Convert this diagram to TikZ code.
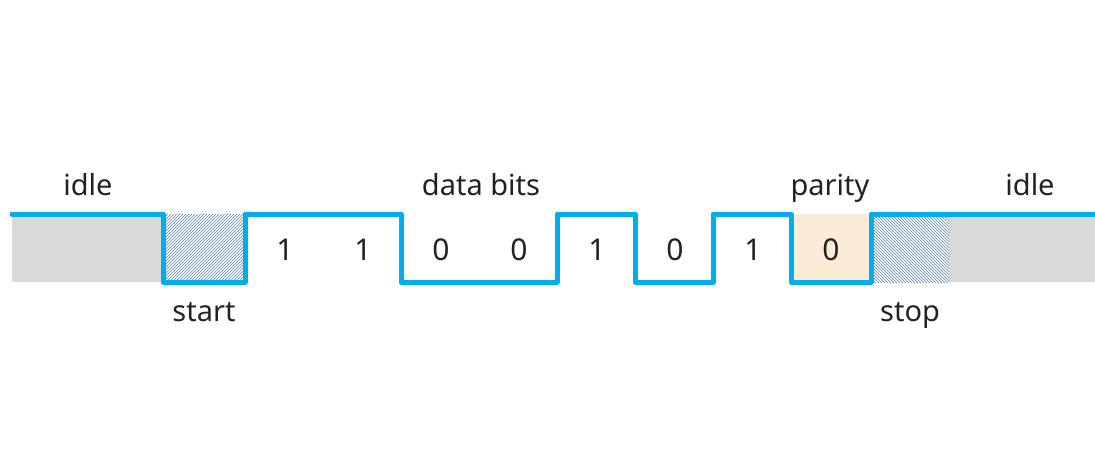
\documentclass[tikz,border=0pt]{standalone}
\usepackage{fontspec}
\setmainfont{Noto Sans}
\usetikzlibrary{patterns}
\definecolor{wire}{HTML}{00AEEF}
\definecolor{idlegray}{HTML}{D9D9D9}
\definecolor{paritybg}{HTML}{FCEBD6}
\definecolor{hatchblue}{HTML}{5B7FAE}
\definecolor{ink}{HTML}{222222}
\tikzset{
  lbl/.style={font=\fontsize{29}{34}\selectfont, text=ink, inner sep=0pt, anchor=base},
  bitlbl/.style={font=\fontsize{30}{34}\selectfont, text=ink, inner sep=0pt, anchor=base},
  signal/.style={draw=wire, line width=5pt, line join=round, line cap=round},
}
\begin{document}
\begin{tikzpicture}[x=1pt,y=-1pt]
  \useasboundingbox (0,0) rectangle (1095,448);
  % idle regions
  \fill[idlegray] (12,214) rectangle (163,282);
  \fill[idlegray] (949,214) rectangle (1095,282);
  % start and stop bits
  \fill[white] (163,214) rectangle (245,282);
  \fill[pattern=north east lines, pattern color=hatchblue] (163,214) rectangle (245,282);
  \fill[white] (871,214) rectangle (949,282);
  \fill[pattern=north west lines, pattern color=hatchblue] (871,214) rectangle (949,282);
  % parity bit
  \fill[paritybg] (791,214) rectangle (871,282);
  % serial line level
  \draw[signal] (12,214) -- (163,214) -- (163,282) -- (245,282) -- (245,214)
    -- (401,214) -- (401,282) -- (557,282) -- (557,214) -- (635,214)
    -- (635,282) -- (713,282) -- (713,214) -- (791,214) -- (791,282)
    -- (871,282) -- (871,214) -- (1095,214);
  % bit values
  \node[bitlbl] (b1) at (285,260) {1};
  \node[bitlbl] (b2) at (363,260) {1};
  \node[bitlbl] (b3) at (441,260) {0};
  \node[bitlbl] (b4) at (519,260) {0};
  \node[bitlbl] (b5) at (597,260) {1};
  \node[bitlbl] (b6) at (675,260) {0};
  \node[bitlbl] (b7) at (753,260) {1};
  \node[bitlbl] (bp) at (831,260) {0};
  % section labels
  \node[lbl] (idleL) at (88,195) {idle};
  \node[lbl] (data) at (481,195) {data bits};
  \node[lbl] (par) at (830,195) {parity};
  \node[lbl] (idleR) at (1030,195) {idle};
  \node[lbl] (start) at (204,321) {start};
  \node[lbl] (stop) at (910,321) {stop};
\end{tikzpicture}
\end{document}
